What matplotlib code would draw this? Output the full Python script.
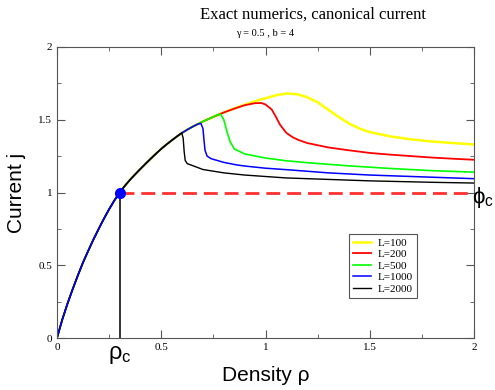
import matplotlib
matplotlib.use('Agg')
import matplotlib.pyplot as plt
from matplotlib.ticker import MultipleLocator

# common rising branch
rise_x = [0, 0.025, 0.05, 0.075, 0.1, 0.125, 0.15, 0.175, 0.2, 0.225, 0.25, 0.275, 0.3,
          0.325, 0.35, 0.375, 0.4, 0.425, 0.45, 0.475, 0.5, 0.525, 0.55, 0.575]
rise_j = [0, 0.125, 0.235, 0.335, 0.43, 0.52, 0.60, 0.678, 0.75, 0.82, 0.885, 0.945, 1.0,
          1.045, 1.087, 1.125, 1.162, 1.198, 1.233, 1.267, 1.30, 1.33, 1.358, 1.385]

# tails for each system size L
x_100 = [0.6, 0.625, 0.65, 0.675, 0.7, 0.75, 0.8, 0.85, 0.9, 0.95, 1.0, 1.05, 1.1, 1.15,
         1.2, 1.25, 1.3, 1.35, 1.4, 1.45, 1.5, 1.6, 1.7, 1.8, 1.9, 2.0]
j_100 = [1.41, 1.432, 1.452, 1.47, 1.488, 1.52, 1.55, 1.578, 1.603, 1.627, 1.648, 1.668,
         1.68, 1.676, 1.655, 1.62, 1.57, 1.52, 1.475, 1.44, 1.415, 1.385, 1.365, 1.35, 1.34, 1.33]

x_200 = [0.6, 0.625, 0.65, 0.675, 0.7, 0.75, 0.8, 0.85, 0.9, 0.95, 0.98, 1.0, 1.03, 1.05,
         1.07, 1.1, 1.13, 1.16, 1.2, 1.3, 1.4, 1.5, 1.6, 1.7, 1.8, 1.9, 2.0]
j_200 = [1.41, 1.432, 1.452, 1.47, 1.488, 1.52, 1.55, 1.576, 1.6, 1.614, 1.615, 1.605, 1.57,
         1.52, 1.465, 1.41, 1.38, 1.36, 1.34, 1.31, 1.29, 1.272, 1.26, 1.25, 1.24, 1.232, 1.225]

x_500 = [0.6, 0.625, 0.65, 0.675, 0.7, 0.725, 0.75, 0.77, 0.785, 0.8, 0.815, 0.83, 0.85,
         0.9, 1.0, 1.1, 1.2, 1.4, 1.6, 1.8, 2.0]
j_500 = [1.41, 1.432, 1.452, 1.47, 1.488, 1.504, 1.52, 1.535, 1.537, 1.50, 1.42, 1.35, 1.30,
         1.265, 1.237, 1.218, 1.205, 1.183, 1.165, 1.15, 1.14]

x_1000 = [0.6, 0.625, 0.65, 0.675, 0.69, 0.70, 0.705, 0.71, 0.72, 0.74, 0.8, 0.86, 0.9,
          1.0, 1.1, 1.3, 1.5, 1.7, 2.0]
j_1000 = [1.41, 1.432, 1.452, 1.47, 1.475, 1.44, 1.36, 1.29, 1.25, 1.232, 1.207, 1.19,
          1.182, 1.167, 1.157, 1.135, 1.12, 1.11, 1.095]

x_2000 = [0.598, 0.605, 0.61, 0.615, 0.625, 0.65, 0.7, 0.8, 0.86, 0.9, 1.0, 1.1, 1.2, 1.5,
          1.8, 2.0]
j_2000 = [1.41, 1.375, 1.28, 1.22, 1.198, 1.185, 1.158, 1.135, 1.126, 1.12, 1.11, 1.10,
          1.095, 1.08, 1.07, 1.065]

labels = ['L=100', 'L=200', 'L=500', 'L=1000', 'L=2000']
colors = ['#ffff00', '#ff0000', '#00ff00', '#0000ff', '#000000']
widths = [1.8, 1.3, 1.2, 1.1, 1.0]
tails = [(x_100, j_100), (x_200, j_200), (x_500, j_500), (x_1000, j_1000), (x_2000, j_2000)]

rho_c = 0.3
phi_c = 1.0

serif = ['Liberation Serif', 'DejaVu Serif']
sans = ['Liberation Sans', 'DejaVu Sans']

fig = plt.figure(figsize=(4.95, 3.9), dpi=100)
ax = fig.add_axes([57/495, 1-338/390, 417/495, 291/390])

for (tx, tj), c, w, lab in zip(tails, colors, widths, labels):
    xs = rise_x + [x for x in tx if x > rise_x[-1]]
    js = rise_j + [j for x, j in zip(tx, tj) if x > rise_x[-1]]
    ax.plot(xs, js, color=c, lw=w, label=lab)

# low density branch in blue, critical point markers
low_x = [x for x in rise_x if x <= rho_c]
low_j = rise_j[:len(low_x)]
ax.plot(low_x, low_j, color='#0000ff', lw=1.1)
ax.plot([rho_c, rho_c], [0, phi_c], color='#333333', lw=1.4)
ax.plot([rho_c, 2.0], [phi_c, phi_c], color='#ff3030', lw=2.0, dashes=(5, 2.5))
ax.plot([rho_c], [phi_c], 'o', color='#0000ff', ms=7, zorder=5)

ax.set_xlim(0, 2)
ax.set_ylim(0, 2)
ax.xaxis.set_minor_locator(MultipleLocator(0.25))
ax.yaxis.set_minor_locator(MultipleLocator(0.25))
ax.tick_params(which='both', direction='in', top=True, right=True, color='#555555')
ax.tick_params(which='major', length=6, labelsize=8)
ax.tick_params(which='minor', length=3)
ax.set_xticks([0, 0.5, 1, 1.5, 2])
ax.set_xticklabels(['0', '0.5', '1', '1.5', '2'], family=serif)
ax.set_yticks([0, 0.5, 1, 1.5, 2])
ax.set_yticklabels(['0', '0.5', '1', '1.5', '2'], family=serif)
for s in ax.spines.values():
    s.set_color('#555555')

ax.set_xlabel('Density ρ', family=sans, fontsize=15, labelpad=10)
ax.set_ylabel('Current j', family=sans, fontsize=15, labelpad=9)

fig.text(313/495, 1-15/390, 'Exact numerics, canonical current', family=serif,
         fontsize=12, ha='center', va='center')
fig.text(265/495, 1-33/390, 'γ = 0.5 , b = 4', family=serif, fontsize=7.5,
         ha='center', va='center')

fig.text(120/495, 1-355/390, r'$\mathregular{\rho_c}$', family=sans, fontsize=17,
         ha='center', va='center')
fig.text(483/495, 1-197/390, r'$\mathregular{ϕ_c}$', family=sans, fontsize=16,
         ha='center', va='center')

leg = ax.legend(loc='lower left', bbox_to_anchor=(0.686, 0.118), prop={'family': serif, 'size': 8},
                fancybox=False, framealpha=1, edgecolor='#555555', handlelength=1.6,
                borderpad=0.4, labelspacing=0.15, handletextpad=0.6)
leg.get_frame().set_linewidth(0.8)

fig.savefig('out.png', dpi=100)
